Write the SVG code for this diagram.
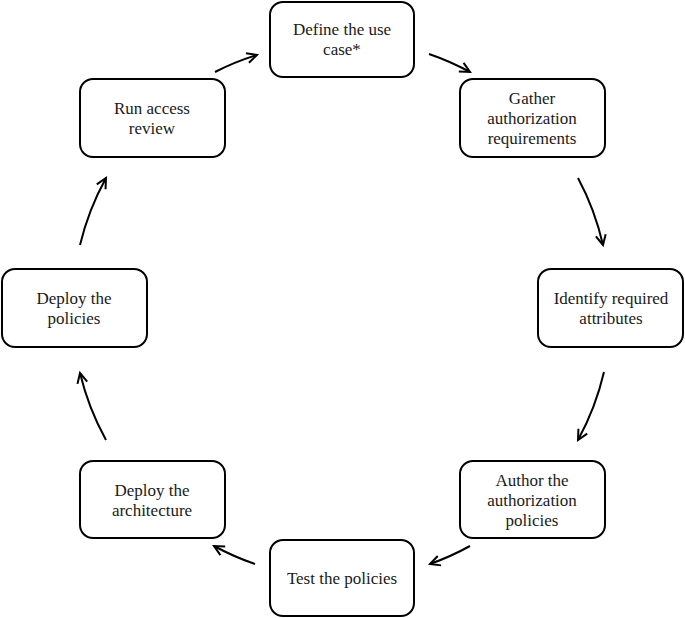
<svg xmlns="http://www.w3.org/2000/svg" width="685" height="618" viewBox="0 0 685 618">
<style>
.box{fill:#fff;stroke:#000;stroke-width:2}
.t{font-size:17px;fill:#1a1a1a;text-anchor:middle}
.c{fill:none;stroke:#000;stroke-width:2;marker-end:url(#ah)}
</style>
<defs>
<marker id="ah" markerUnits="userSpaceOnUse" markerWidth="16" markerHeight="16" refX="11" refY="6" orient="auto">
<polyline points="1,1 11,6 1,11" fill="none" stroke="#000" stroke-width="2"/>
</marker>
</defs>
<rect width="685" height="618" fill="#fff"/>
<g id="connectors">
<path class="c" d="M215,72 A268,268 0 0 1 257,55"/>
<path class="c" d="M429,54 A268,268 0 0 1 470,72"/>
<path class="c" d="M578,178 A268,268 0 0 1 603,245"/>
<path class="c" d="M604,372 A268,268 0 0 1 578,440"/>
<path class="c" d="M470,546 A268,268 0 0 1 430,564"/>
<path class="c" d="M255,564 A268,268 0 0 1 214,546"/>
<path class="c" d="M106,440 A268,268 0 0 1 80,373"/>
<path class="c" d="M80,245 A268,268 0 0 1 106,178"/>
</g>
<g font-family="'Liberation Serif', 'DejaVu Serif', serif">
<g id="define">
<rect class="box" x="270" y="2" width="144" height="75" rx="13"/>
<text class="t" x="342" y="35">Define the use</text>
<text class="t" x="342" y="55">case*</text>
</g>
<g id="gather">
<rect class="box" x="460" y="79" width="145" height="78" rx="13"/>
<text class="t" x="532" y="104">Gather</text>
<text class="t" x="532" y="124">authorization</text>
<text class="t" x="532" y="144">requirements</text>
</g>
<g id="identify">
<rect class="box" x="538" y="269" width="145" height="78" rx="13"/>
<text class="t" x="611" y="304">Identify required</text>
<text class="t" x="611" y="324">attributes</text>
</g>
<g id="author">
<rect class="box" x="460" y="461" width="145" height="77" rx="13"/>
<text class="t" x="532" y="486">Author the</text>
<text class="t" x="532" y="506">authorization</text>
<text class="t" x="532" y="526">policies</text>
</g>
<g id="test">
<rect class="box" x="270" y="540" width="144" height="76" rx="13"/>
<text class="t" x="342" y="584">Test the policies</text>
</g>
<g id="deploy-architecture">
<rect class="box" x="80" y="461" width="145" height="77" rx="13"/>
<text class="t" x="152" y="496">Deploy the</text>
<text class="t" x="152" y="516">architecture</text>
</g>
<g id="deploy-policies">
<rect class="box" x="2" y="269" width="145" height="78" rx="13"/>
<text class="t" x="74" y="304">Deploy the</text>
<text class="t" x="74" y="324">policies</text>
</g>
<g id="run-review">
<rect class="box" x="80" y="79" width="145" height="78" rx="13"/>
<text class="t" x="152" y="114">Run access</text>
<text class="t" x="152" y="134">review</text>
</g>
</g>
</svg>
